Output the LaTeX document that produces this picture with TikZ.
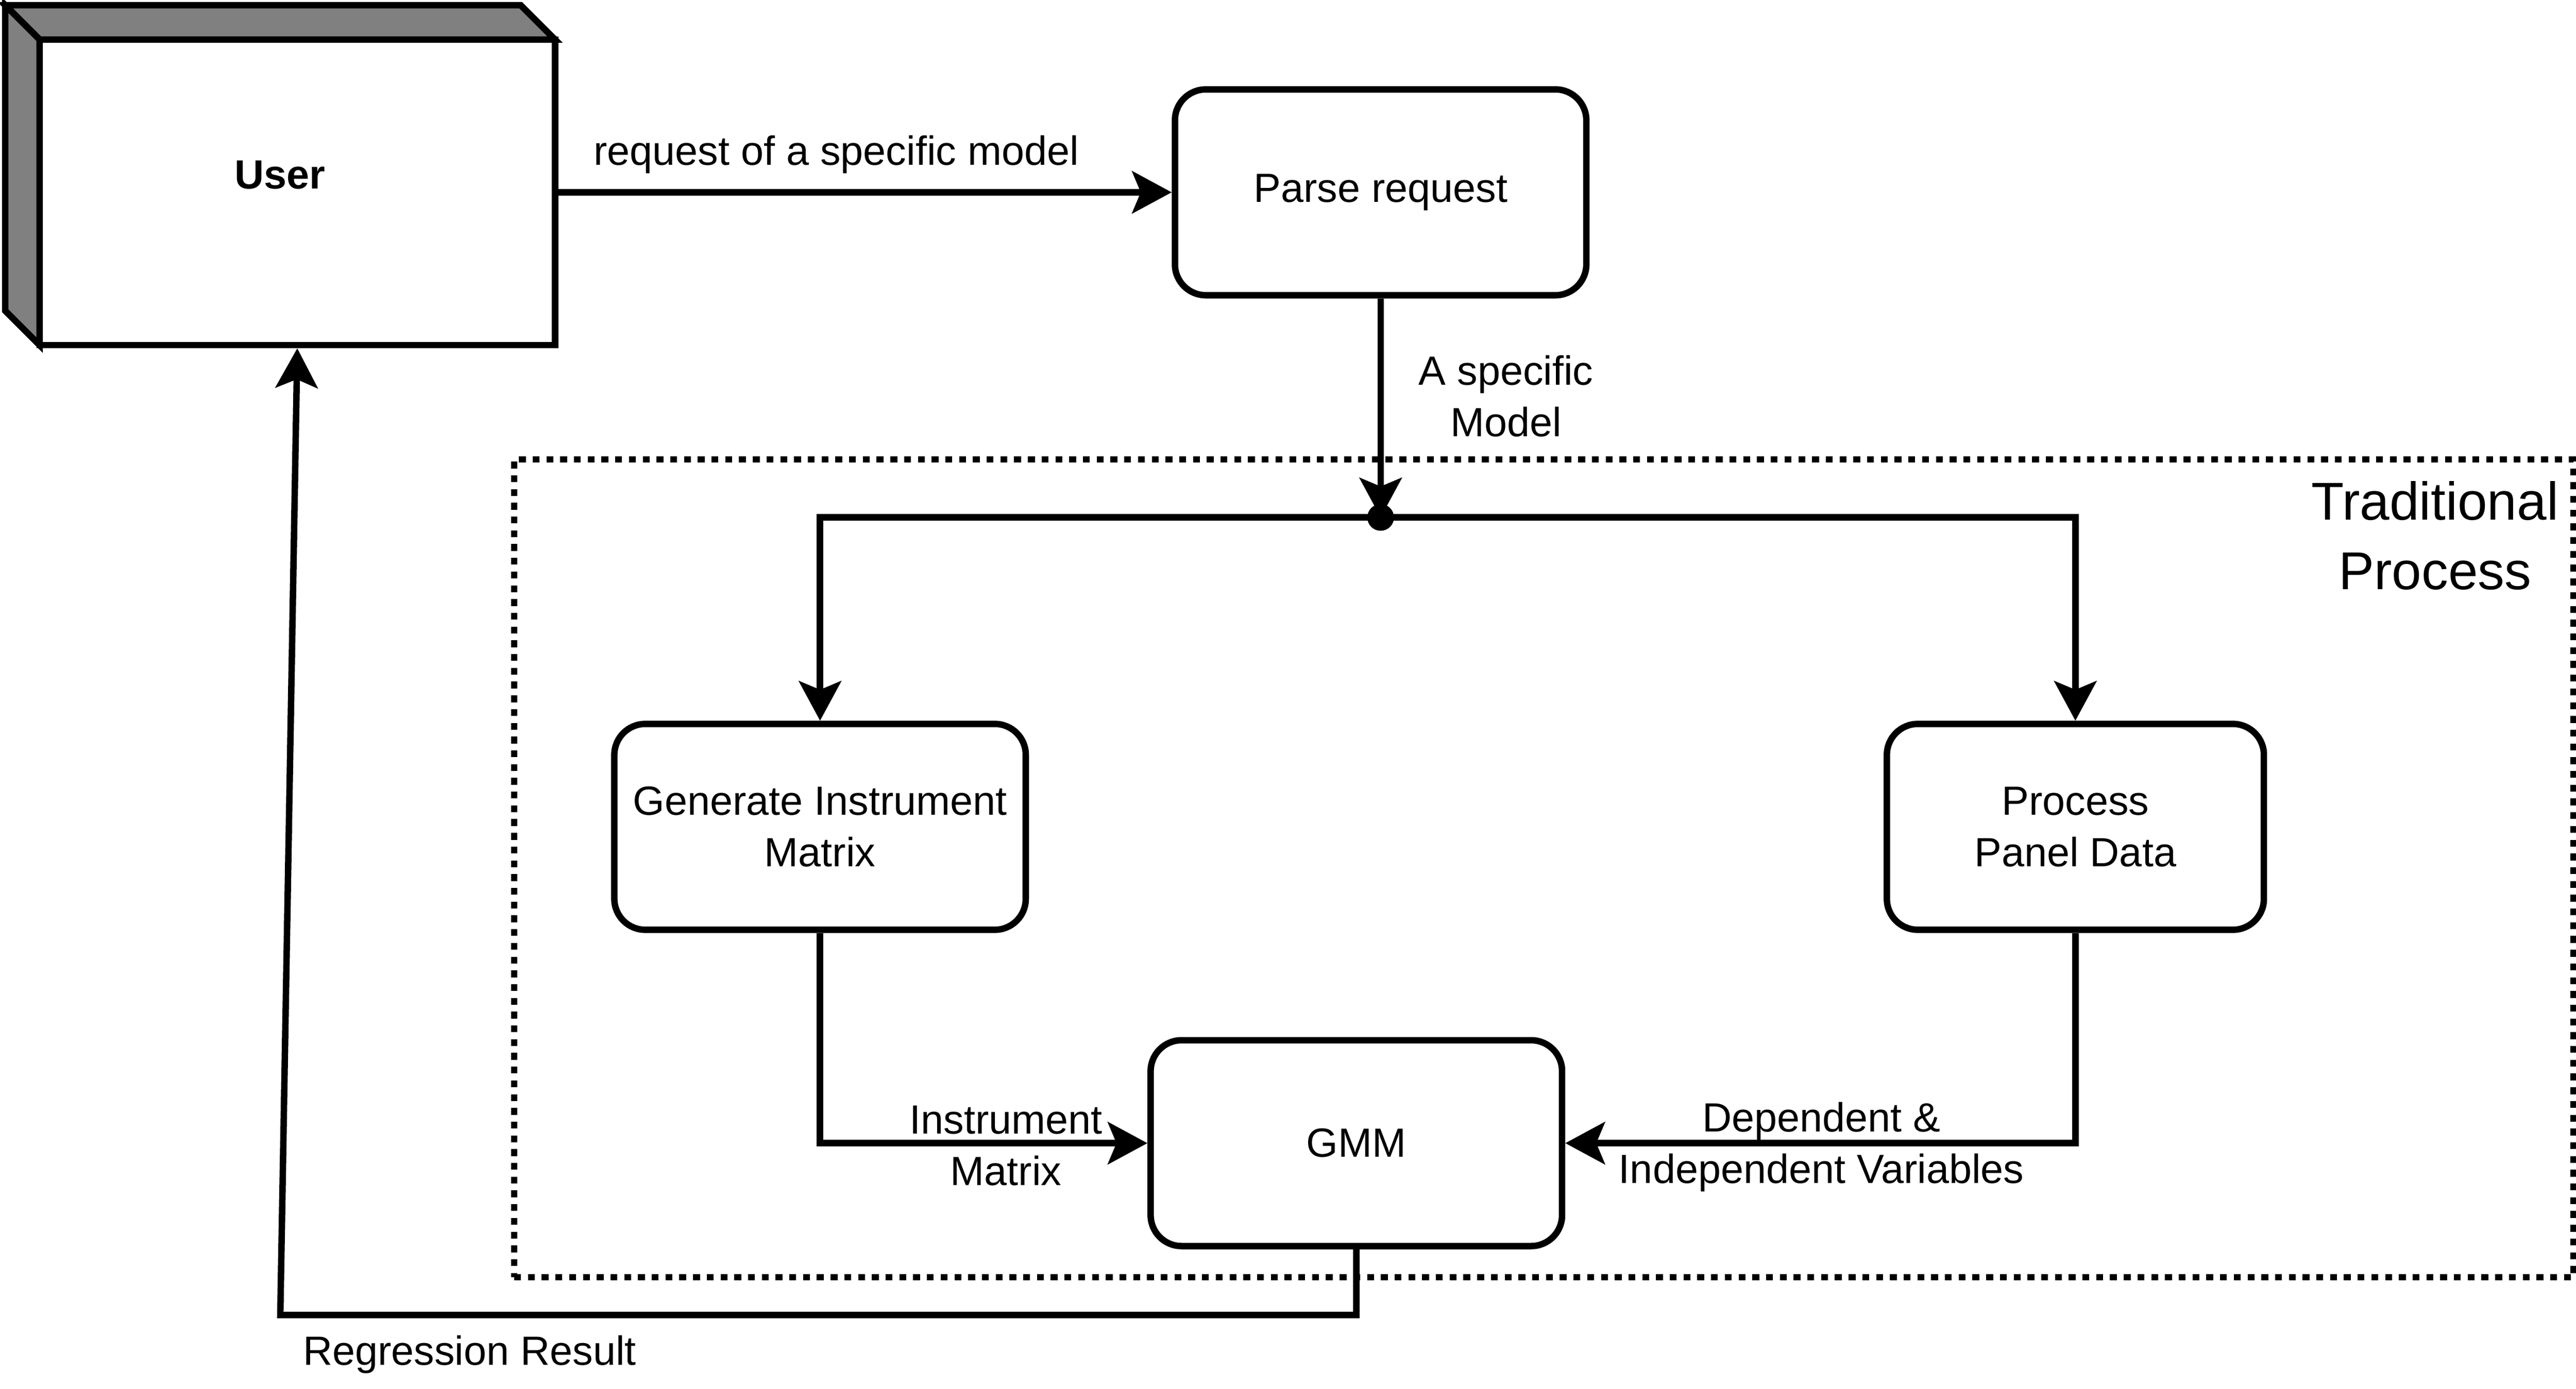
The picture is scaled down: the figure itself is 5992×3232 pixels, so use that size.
\documentclass[tikz,border=0pt]{standalone}
\usepackage{fontspec}
\setmainfont{Liberation Sans}
\usepackage{tikz}
\usetikzlibrary{positioning, arrows.meta}
\definecolor{cubegray}{HTML}{808080}

\begin{document}
\begin{tikzpicture}[
    x=0.1mm, y=-0.1mm,
    font=\fontsize{27}{34.2}\selectfont,
    process/.style={rectangle, rounded corners=7.2mm, draw, line width=1.5mm, minimum width=95.7mm, minimum height=47.9mm, inner sep=0pt, align=center, fill=white},
    cube/.style={rectangle, outer sep=0pt, minimum width=127.9mm, minimum height=79.1mm, font=\fontsize{27}{34.2}\selectfont\bfseries},
    cubeside/.style={draw, line width=1.5mm, fill=cubegray},
    cubefront/.style={draw, line width=1.5mm},
    group/.style={rectangle, draw, line width=1.5mm, dash pattern=on 1.6mm off 1.6mm, minimum width=479mm, minimum height=190.3mm},
    grouptitle/.style={inner sep=0pt, align=center, font=\fontsize{35.3}{45.9}\selectfont},
    junction/.style={circle, fill, inner sep=0pt, minimum size=6.2mm},
    flowtext/.style={inner sep=0pt, align=center},
    arrow/.style={-{Stealth[length=9.2mm, width=9.8mm, inset=2mm]}, line width=1.5mm}
]
\useasboundingbox (0,0) rectangle (5992,3232);

% Group frame
\node[group] (trad) at (3591,2020.5) {};
\node[grouptitle] (tradtitle) at (5664,1246.5) {Traditional\\Process};

% External entity
\node[cube] (user) at (651.5,407.5) {User};
\filldraw[cubeside] (user.north west) -- ([xshift=-8mm]user.north east) -- ++(80,80) -- ++(-1199,0) -- cycle;
\filldraw[cubeside] (user.north west) -- ++(80,80) -- ++(0,711) -- ([yshift=8mm]user.south west) -- cycle;
\draw[cubefront] ([shift={(80,80)}]user.north west) rectangle (user.south east);
\coordinate (userin) at ([xshift=4mm, yshift=-0.75mm]user.south);
\coordinate (userout) at ([yshift=-4mm]user.east);

% Processes
\node[process, right=143.45mm of userout] (parse) {Parse request};
\node[process] (gen) at (1907.5,1924) {Generate Instrument\\Matrix};
\node[process, minimum width=87.7mm, right=198.8mm of gen] (proc) {Process\\Panel Data};
\node[process] (gmm) at (3155,2660) {GMM};

\coordinate (split) at (parse.south |- 0,1204);
\coordinate (back) at (652,3060);

% Flows
\draw[arrow] (userout) -- node[flowtext, pos=0.456, anchor=base, yshift=6.3mm] {request of a specific model} (parse);
\draw[arrow] (parse) -- node[flowtext, pos=0.446, anchor=west, xshift=8.1mm] {A specific\\Model} (split);
\draw[arrow] (split) -| (gen);
\draw[arrow] (split) -| (proc);
\node[junction] (dot) at (split) {};
\draw[arrow] (gen) |- node[flowtext, pos=0.784, yshift=-0.6mm] {Instrument\\Matrix} (gmm);
\draw[arrow] (proc) |- node[flowtext, pos=0.749, yshift=-0.85mm] {Dependent \&\\Independent Variables} (gmm);
\draw[arrow] (gmm) |- node[flowtext, pos=0.912, anchor=base, yshift=-11.6mm] {Regression Result} (back) -- (userin);

\end{tikzpicture}
\end{document}
